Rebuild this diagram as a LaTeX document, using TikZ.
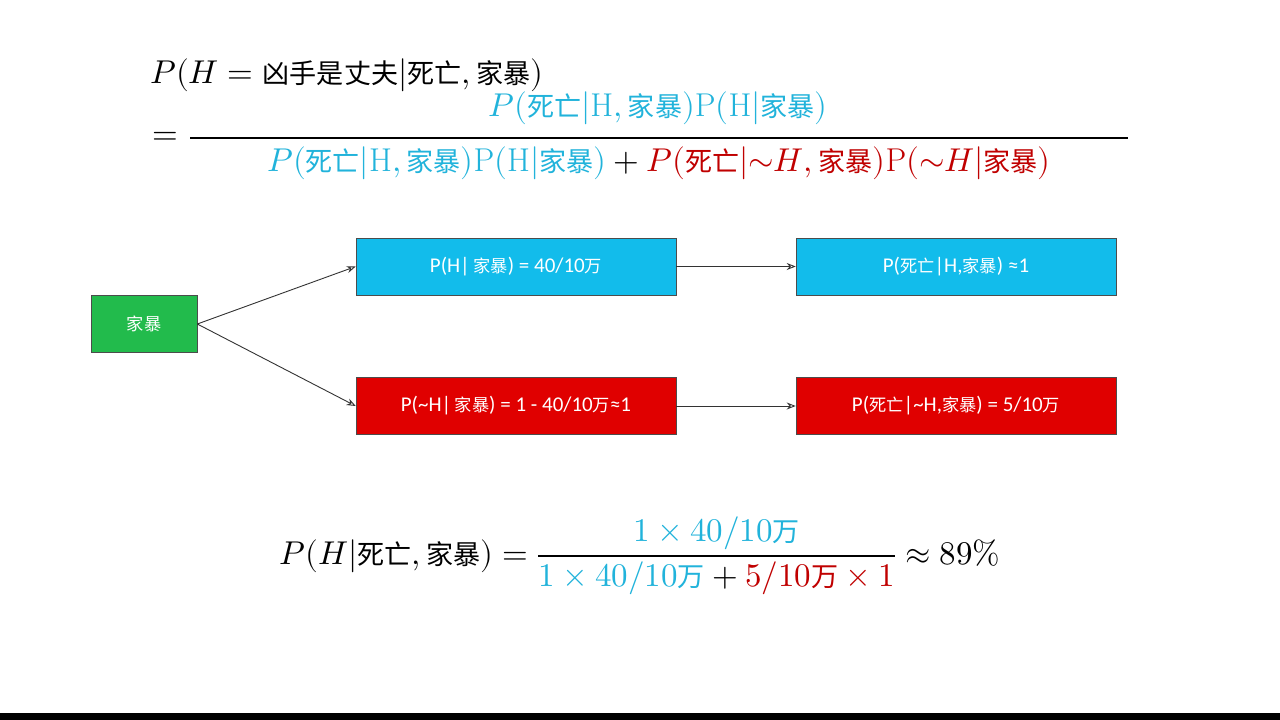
\documentclass[tikz,border=0pt]{standalone}
\usepackage{amsmath}
\usepackage{fontspec}
\usepackage{unicode-math}
\setmathfont{Latin Modern Math}
\newfontfamily\cjk[Scale=0.82]{Noto Sans CJK SC}
\setsansfont{Carlito}
\newcommand\zh[1]{\mbox{\cjk #1}}
\definecolor{cy}{HTML}{21B3DB}
\definecolor{rd}{HTML}{C00000}
\definecolor{boxc}{HTML}{12BCEB}
\definecolor{boxr}{HTML}{E00000}
\definecolor{boxg}{HTML}{22BB4C}
\usetikzlibrary{arrows.meta}
\tikzset{
 bx/.style={draw=black!70,line width=0.6pt,minimum width=320pt,minimum height=57pt,text=white,font=\fontsize{21}{24}\selectfont\sffamily},
 ar/.style={-{Stealth[length=9pt,width=7pt,open]},draw=black!80,line width=0.9pt},
 fm/.style={font=\fontsize{33}{40}\selectfont,inner sep=0pt}
}
\begin{document}
\begin{tikzpicture}[x=1pt,y=-1pt]
\useasboundingbox (0,0) rectangle (1280,720);
\fill[white] (0,0) rectangle (1280,720);
\fill[black] (0,713) rectangle (1280,720);
\node[fm,anchor=west] (t1) at (150,75) {$P(H=\zh{凶手是丈夫}|\zh{死亡},\zh{家暴})$};
\node[fm] (eq) at (165,138) {$=$};
\coordinate (b1) at (190,138);
\coordinate (b2) at (1128,138);
\draw[line width=1.8pt] (b1) -- (b2);
\node[fm,text=cy] (num) at (658,108) {$P(\zh{死亡}|\mathrm{H},\zh{家暴})\mathrm{P}(\mathrm{H}|\zh{家暴})$};
\node[fm] (den) at (659,163) {$\color{cy}P(\zh{死亡}|\mathrm{H},\zh{家暴})\mathrm{P}(\mathrm{H}|\zh{家暴})\color{black}+\color{rd}P(\zh{死亡}|{\sim}H,\zh{家暴})\mathrm{P}({\sim}H|\zh{家暴})$};
\node[bx,fill=boxg,minimum width=106pt] (g) at (144,324) {\cjk 家暴};
\node[bx,fill=boxc] (c1) at (516,266.5) {P(H|\,{\cjk 家暴}) = 40/10{\cjk 万}};
\node[bx,fill=boxc] (c2) at (956,266.5) {P({\cjk 死亡}|H,{\cjk 家暴}) ≈1};
\node[bx,fill=boxr] (r1) at (516,406) {P(\textasciitilde H|\,{\cjk 家暴}) = 1 - 40/10{\cjk 万}≈1};
\node[bx,fill=boxr] (r2) at (956,406) {P({\cjk 死亡}|\textasciitilde H,{\cjk 家暴}) = 5/10{\cjk 万}};
\draw[ar] (g.east) -- (c1.west);
\draw[ar] (g.east) -- (r1.west);
\draw[ar] (c1) -- (c2);
\draw[ar] (r1) -- (r2);
\node[fm] (bot) at (640,556) {$P(H|\zh{死亡},\zh{家暴})=\dfrac{\color{cy}1\times 40/10\zh{万}}{\color{cy}1\times40/10\zh{万}\color{black}+\color{rd}5/10\zh{万}\times1}\approx 89\%$};
\end{tikzpicture}
\end{document}
